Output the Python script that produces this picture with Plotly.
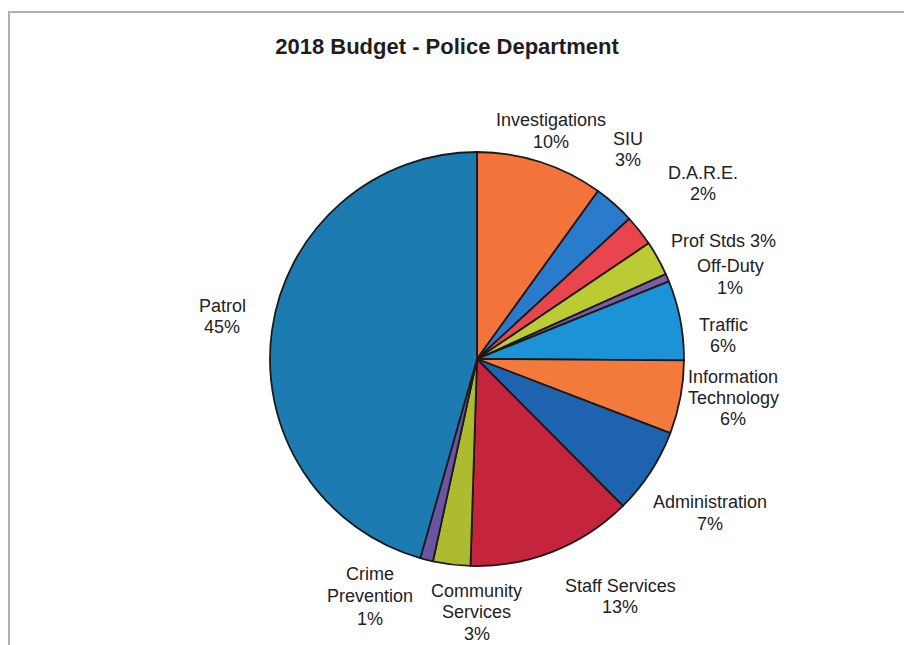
import plotly.graph_objects as go

# page body has an 8px margin: the figure starts at (8, 8) in the window
OFF = 8
W, H = 912 - OFF, 645 - OFF

categories = ["Investigations", "SIU", "D.A.R.E.", "Prof Stds", "Off-Duty", "Traffic",
              "Information Technology", "Administration", "Staff Services",
              "Community Services", "Crime Prevention", "Patrol"]
values = [9.9, 3.2, 2.4, 2.7, 0.6, 6.2, 5.7, 6.7, 12.9, 2.9, 1.0, 45.4]
pct_labels = ["10%", "3%", "2%", "3%", "1%", "6%", "6%", "7%", "13%", "3%", "1%", "45%"]
colors = ["#f2743a", "#2b7bcc", "#e8454f", "#bccb33", "#7c5ca8", "#1b93d6",
          "#f47a3c", "#1e63ae", "#c4243c", "#aebb2e", "#6b55a0", "#1c7cb2"]

# label lines (name lines + percentage) and their centre positions in window pixels
label_lines = [
    [("Investigations", 551, 119), ("10%", 551, 141)],
    [("SIU", 628, 138), ("3%", 628, 159)],
    [("D.A.R.E.", 703, 172), ("2%", 703, 193)],
    [("Prof Stds 3%", 723, 240)],
    [("Off-Duty", 730, 265), ("1%", 730, 287)],
    [("Traffic", 723, 324), ("6%", 723, 345)],
    [("Information", 733, 376), ("Technology", 733, 397), ("6%", 733, 418)],
    [("Administration", 710, 501), ("7%", 710, 523)],
    [("Staff Services", 620, 585), ("13%", 620, 606)],
    [("Community", 477, 590), ("Services", 477, 611), ("3%", 477, 633)],
    [("Crime", 370, 573), ("Prevention", 370, 595), ("1%", 370, 618)],
    [("Patrol", 222, 305), ("45%", 222, 326)],
]

cx, cy, r = 477, 359, 207


def px(x, y):
    return (x - OFF) / W, 1 - (y - OFF) / H


x0, y1 = px(cx - r, cy - r)
x1, y0 = px(cx + r, cy + r)

fig = go.Figure(go.Pie(
    labels=categories,
    values=values,
    sort=False,
    direction="clockwise",
    rotation=0,
    textinfo="none",
    hoverinfo="label+percent",
    marker=dict(colors=colors, line=dict(color="#1a1a1a", width=1.8)),
    domain=dict(x=[x0, x1], y=[y0, y1]),
    showlegend=False,
))

FONT = "Liberation Sans, Arial, sans-serif"
annotations = []
for block in label_lines:
    for txt, x, y in block:
        ax, ay = px(x, y + 1)
        annotations.append(dict(
            x=ax, y=ay, xref="paper", yref="paper", text=txt, showarrow=False,
            xanchor="center", yanchor="middle", align="center",
            font=dict(family=FONT, size=18, color="#222222"),
        ))

tx, ty = px(447, 46)
fx0, fy1 = px(9, 12)
fig.update_layout(
    width=W, height=H,
    margin=dict(l=0, r=0, t=0, b=0),
    paper_bgcolor="white",
    plot_bgcolor="white",
    title=dict(text="<b>2018 Budget - Police Department</b>", x=tx, y=ty,
               xanchor="center", yanchor="middle",
               font=dict(family=FONT, size=22, color="#1e1e1e")),
    annotations=annotations,
    shapes=[dict(type="rect", xref="paper", yref="paper",
                 x0=fx0, x1=1.05, y0=-0.05, y1=fy1,
                 line=dict(color="#b0b0b0", width=2))],
)

fig.write_html("out.html")
